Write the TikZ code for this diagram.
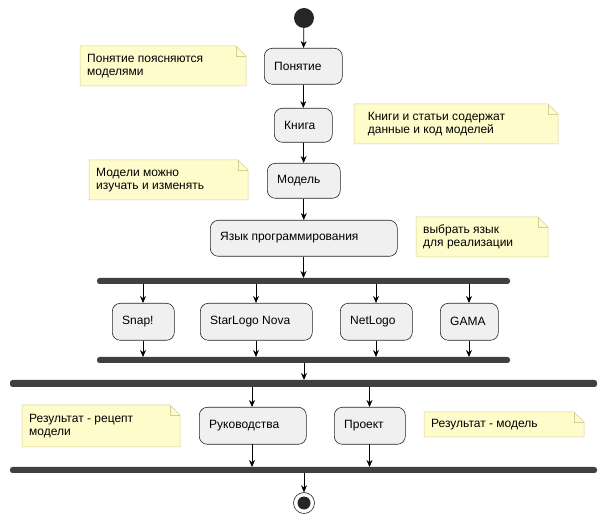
\documentclass[tikz,border=0pt]{standalone}
\usepackage{fontspec}
\setmainfont{Liberation Sans}
\usetikzlibrary{arrows.meta}
\begin{document}
\begin{tikzpicture}[x=1pt,y=-1pt,
 act/.style={draw=black!85,fill=black!6,rounded corners=8pt,line width=0.6pt,inner sep=0pt},
 bar/.style={fill=black!75,draw=none,rounded corners=2.5pt},
 arr/.style={-{Stealth[length=7pt,width=6pt]},line width=0.7pt,black},
 notetxt/.style={font=\fontsize{12}{13.5}\selectfont,align=left,anchor=west,inner sep=0pt}]
\useasboundingbox (0,0) rectangle (608,526);
\newcommand\note[5]{% x1 y1 x2 y2 text
 \fill[yellow!20,draw=yellow!60!black!50,line width=0.5pt] (#1,#2) -- ({#3-10},#2) -- (#3,{#2+10}) -- (#3,#4) -- (#1,#4) -- cycle;
 \draw[yellow!60!black!50,line width=0.5pt] ({#3-10},#2) -- ({#3-10},{#2+10}) -- (#3,{#2+10});
 \node[notetxt] at ({#1+7},{(#2+#4)/2}) {#5};}
\newcommand\actbox[6]{% name x1 y1 x2 y2 text
 \node[act,minimum width={#4-#2},minimum height={#5-#3},anchor=north west] (#1) at (#2,#3) {};
 \node[font=\fontsize{12}{14}\selectfont,anchor=west,inner sep=0pt] at ({#2+10},{(#3+#5)/2}) {#6};}
\fill[black!85] (304,18) circle (10);
\node[inner sep=0pt,minimum size=20pt] (start) at (304,18) {};
\actbox{a1}{264}{48}{342}{84}{Понятие}
\note{80}{46}{246}{86}{Понятие поясняются\\моделями}
\actbox{a2}{274}{108}{332}{142}{Книга}
\note{354}{104}{558}{144}{\ \ Книги и статьи содержат\\\ \ данные и код моделей}
\actbox{a3}{267}{163}{340}{198}{Модель}
\note{89}{160}{248}{200}{Модели можно\\изучать и изменять}
\actbox{a4}{210}{220}{397}{256}{Язык программирования}
\note{416}{217}{548}{257}{выбрать язык\\для реализации}
\path[bar] (97,278) rectangle (510,284);
\actbox{s1}{112}{303}{174}{340}{Snap!}
\actbox{s2}{200}{303}{312}{340}{StarLogo Nova}
\actbox{s3}{340}{303}{412}{340}{NetLogo}
\actbox{s4}{440}{303}{498}{340}{GAMA}
\path[bar] (97,357) rectangle (510,363);
\path[bar] (10,380) rectangle (597,387);
\actbox{r1}{199}{407}{306}{444}{Руководства}
\note{22}{405}{180}{447}{Результат - рецепт\\модели}
\actbox{r2}{334}{407}{405}{444}{Проект}
\note{424}{412}{584}{437}{Результат - модель}
\path[bar] (10,467) rectangle (597,473);
\draw[black!85,line width=0.6pt] (304,503) circle (10.5);
\fill[black!85] (304,503) circle (6.5);
\node[inner sep=0pt,minimum size=21pt] (end) at (304,503) {};
\draw[arr] (start) -- (a1);
\draw[arr] (a1) -- (a2);
\draw[arr] (a2) -- (a3);
\draw[arr] (a3) -- (a4);
\draw[arr] (a4.south -| 303.5,0) -- (303.5,278);
\foreach \n/\x in {s1/143,s2/256,s3/376,s4/469}{
 \draw[arr] (\x,284) -- (\n.north -| \x,0);
 \draw[arr] (\n.south -| \x,0) -- (\x,357);}
\draw[arr] (304,363) -- (304,380);
\draw[arr] (252,387) -- (252,407);
\draw[arr] (369.5,387) -- (369.5,407);
\draw[arr] (252,444) -- (252,467);
\draw[arr] (369.5,444) -- (369.5,467);
\draw[arr] (304,473) -- (end);
\end{tikzpicture}
\end{document}
